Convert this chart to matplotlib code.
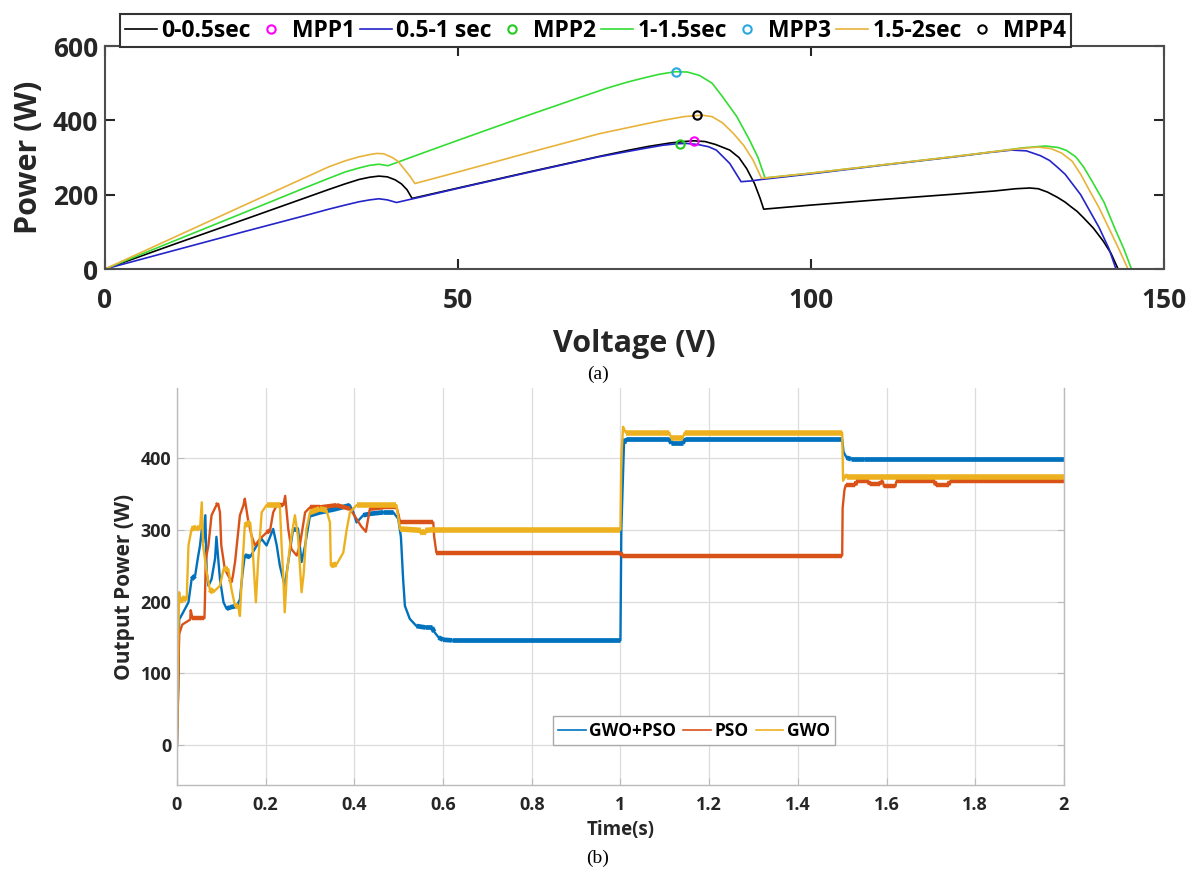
import numpy as np
import matplotlib
matplotlib.use('Agg')
import matplotlib.pyplot as plt
from matplotlib.collections import LineCollection

plt.rcParams['font.family'] = ['Open Sans', 'DejaVu Sans']
plt.rcParams['font.weight'] = 'bold'

# ---------------- (a) P-V curves ----------------
# 0-0.5 sec
v1 = [0, 10, 20, 28, 31.7, 34, 36, 37.5, 38.8, 40, 41.1, 42, 42.8, 43.5,
      50, 60, 70, 74, 77, 80, 82, 83.4, 85, 86.5, 88.5, 89.8, 90.9, 92, 92.8, 93.3,
      100, 110, 120, 126, 129, 131, 132.2, 133.5, 134.9, 136, 136.8, 137.7, 138.6,
      140, 141.4, 142.5, 143.5]
p1 = [0, 68, 135, 189, 214, 229, 241, 247, 250, 248, 240, 229, 213, 190,
      218, 261, 303, 319, 330, 339, 343, 345, 343, 335, 320, 300, 270, 230, 190, 161,
      172, 187, 201, 210, 216, 218, 216, 207, 193, 180, 168, 155, 138,
      110, 75, 42, 0]
# 0.5-1 sec
v2 = [0, 10, 20, 28, 31.7, 34, 36, 37.5, 38.8, 40, 41.3,
      45, 50, 60, 70, 75.7, 79, 81, 82.3, 84, 85.5, 86.6, 88.5, 90.1, 91.5, 93,
      100, 110, 120, 125, 128.4, 130.5, 132.5, 133.8, 134.9, 136, 137, 138.2, 139.2,
      140.8, 142.2, 143.2]
p2 = [0, 51, 102, 142, 161, 172, 181, 186, 189, 186, 179,
      195, 217, 260, 302, 322, 333, 337, 338, 335, 329, 320, 284, 235, 237, 241,
      256, 279, 301, 313, 320, 318, 305, 292, 274, 255, 230, 200, 166,
      112, 55, 0]
# 1-1.5 sec
v3 = [0, 10, 20, 28, 31.7, 34, 36, 37.5, 38.8, 40.1,
      45, 50.1, 60, 67, 71, 74, 76.5, 78.5, 80.8, 82.5, 84.2, 86, 87.5, 89.5, 91.3, 92.5, 93.5,
      100, 110, 120, 126, 130, 133.2, 135, 136.2, 137.5, 138.6, 139.7, 141.5, 143, 144.3, 145.4]
p3 = [0, 77, 154, 216, 244, 261, 272, 279, 282, 278,
      312, 347, 414, 460, 486, 503, 515, 524, 531, 530, 521, 500, 463, 410, 347, 300, 245,
      258, 280, 302, 316, 326, 331, 327, 319, 302, 275, 240, 180, 111, 55, 0]
# 1.5-2 sec
v4 = [0, 10, 20, 28, 31.7, 34, 36, 37.5, 38.5, 39.5, 40.7, 41.5, 42.3, 43.2, 43.9,
      50, 60, 70, 75.7, 79, 82, 84.5, 86, 87.5, 89, 90.5, 91.8, 93,
      100, 110, 120, 126, 130, 132.2, 134, 135.5, 137, 138.2, 139.2, 140.8, 142.4,
      143.7, 144.9]
p4 = [0, 87, 174, 243, 275, 291, 302, 308, 311, 310, 300, 290, 271, 250, 230,
      261, 313, 364, 387, 400, 410, 414, 410, 393, 365, 332, 293, 244,
      258, 280, 302, 316, 325, 328, 324, 312, 290, 255, 220, 165, 102,
      50, 0]

mpp_v = [83.4, 81.5, 80.9, 83.9]
mpp_p = [345, 336, 530, 414]
period_labels = ['0-0.5sec', '0.5-1 sec', '1-1.5sec', '1.5-2sec']
mpp_labels = ['MPP1', 'MPP2', 'MPP3', 'MPP4']

# ---------------- (b) output power vs time ----------------
t_gwopso = [0, 0.003, 0.005, 0.014, 0.026, 0.033, 0.041, 0.047, 0.052, 0.056, 0.059,
            0.064, 0.067, 0.071, 0.078, 0.086, 0.089, 0.093, 0.097, 0.105, 0.112,
            0.12, 0.135, 0.142, 0.148, 0.153, 0.165, 0.18, 0.191, 0.202, 0.21,
            0.217, 0.225, 0.232, 0.243, 0.251, 0.262, 0.273, 0.281, 0.289, 0.3,
            0.322, 0.36, 0.39, 0.398, 0.405, 0.42, 0.435, 0.465, 0.488, 0.499,
            0.505, 0.51, 0.514, 0.525, 0.54, 0.56, 0.575, 0.58, 0.59, 0.6, 0.62,
            1.0, 1.002, 1.008, 1.012, 1.11, 1.115, 1.14, 1.145, 1.5, 1.503,
            1.51, 1.52, 1.55, 2.0]
p_gwopso = [0, 80, 175, 185, 199, 231, 236, 260, 278, 300, 282,
            320, 241, 222, 231, 260, 290, 260, 231, 199, 190,
            192, 194, 203, 240, 264, 262, 278, 287, 278, 290,
            301, 278, 250, 222, 255, 301, 301, 255, 278, 320,
            324, 329, 334, 324, 310, 320, 322, 324, 324, 315,
            290, 231, 194, 176, 166, 164, 164, 158, 150, 147, 146,
            146, 300, 420, 426, 426, 420, 420, 426, 426, 408,
            400, 398, 398, 398]

t_pso = [0, 0.003, 0.005, 0.012, 0.03, 0.031, 0.035, 0.062, 0.063, 0.065, 0.071,
         0.078, 0.089, 0.093, 0.097, 0.1, 0.108, 0.12, 0.123, 0.126, 0.131,
         0.142, 0.15, 0.153, 0.16, 0.168, 0.176, 0.187, 0.202, 0.21, 0.217,
         0.225, 0.24, 0.244, 0.251, 0.258, 0.27, 0.277, 0.289, 0.3, 0.322,
         0.36, 0.39, 0.405, 0.415, 0.426, 0.435, 0.465, 0.495, 0.5, 0.503,
         0.578, 0.58, 0.585, 1.0, 1.003, 1.5, 1.501, 1.505, 1.508, 1.53, 1.532,
         1.56, 1.562, 1.585, 1.587, 1.592, 1.594, 1.62, 1.622, 1.709, 1.711,
         1.74, 1.742, 2.0]
p_pso = [0, 90, 155, 168, 175, 188, 177, 177, 200, 259, 278,
         320, 334, 336, 324, 278, 245, 231, 227, 235, 255,
         320, 334, 343, 315, 292, 278, 287, 296, 299, 324,
         334, 334, 347, 301, 273, 264, 278, 324, 331, 331,
         334, 329, 315, 305, 297, 329, 331, 331, 320, 310,
         310, 290, 268, 268, 264, 264, 330, 355, 362, 362, 367,
         367, 363, 363, 367, 367, 360, 360, 367, 367, 362,
         362, 367, 367]

t_gwo = [0, 0.003, 0.005, 0.007, 0.011, 0.022, 0.026, 0.033, 0.044, 0.052, 0.056,
         0.059, 0.067, 0.074, 0.082, 0.097, 0.105, 0.116, 0.123, 0.131, 0.138,
         0.142, 0.146, 0.153, 0.165, 0.17, 0.178, 0.183, 0.191, 0.202, 0.217,
         0.232, 0.236, 0.24, 0.243, 0.248, 0.255, 0.266, 0.273, 0.281, 0.286,
         0.292, 0.3, 0.322, 0.337, 0.345, 0.347, 0.36, 0.375, 0.383, 0.39,
         0.405, 0.435, 0.465, 0.495, 0.503, 0.55, 0.555, 0.56, 0.58, 1.0,
         1.002, 1.006, 1.012, 1.11, 1.115, 1.14, 1.145, 1.5, 1.502, 1.505,
         1.51, 2.0]
p_gwo = [0, 150, 213, 199, 205, 203, 278, 301, 303, 301, 338,
         278, 241, 217, 213, 222, 245, 245, 217, 194, 194,
         180, 231, 306, 310, 280, 199, 255, 324, 334, 334,
         334, 278, 231, 185, 240, 278, 320, 290, 213, 240,
         301, 324, 329, 327, 310, 250, 252, 268, 301, 324,
         334, 334, 334, 334, 301, 299, 294, 299, 300, 300,
         400, 443, 435, 435, 427, 427, 435, 435, 368, 375,
         373, 373]

fig = plt.figure(figsize=(11.98, 8.72), dpi=100)

# ---- top panel
ax1 = fig.add_axes([0.0876, 0.6915, 0.884, 0.2557])
c_black, c_blue, c_green, c_orange = '#000000', '#2424C8', '#33DD33', '#E8B33A'
ax1.plot(v1, p1, color=c_black, lw=1.2, label=period_labels[0])
ax1.plot(v2, p2, color=c_blue, lw=1.2, label=period_labels[1])
ax1.plot(v3, p3, color=c_green, lw=1.2, label=period_labels[2])
ax1.plot(v4, p4, color=c_orange, lw=1.2, label=period_labels[3])
mpp_colors = ['#FF00FF', '#22CC22', '#2AA8E0', '#000000']
mpp_handles = []
for i in range(4):
    h, = ax1.plot(mpp_v[i], mpp_p[i], 'o', ms=6, mfc='none', mec=mpp_colors[i],
                  mew=1.5, label=mpp_labels[i])
    mpp_handles.append(h)

ax1.set_xlim(0, 150)
ax1.set_ylim(0, 600)
ax1.set_xticks([0, 50, 100, 150])
ax1.set_yticks([0, 200, 400, 600])
ax1.tick_params(direction='in', length=7, width=1.5, top=True, right=True,
                labelsize=19, colors='#262626')
ax1.tick_params(axis='x', pad=13)
ax1.tick_params(axis='y', pad=5)
for s in ax1.spines.values():
    s.set_linewidth(1.5)
    s.set_color('#4d4d4d')
ax1.set_xlabel('Voltage (V)', fontsize=22, fontweight='bold', color='#262626', labelpad=11)
ax1.set_ylabel('Power (W)', fontsize=22, fontweight='bold', color='#262626', labelpad=6)

lines = ax1.get_lines()
order = [lines[0], mpp_handles[0], lines[1], mpp_handles[1],
         lines[2], mpp_handles[2], lines[3], mpp_handles[3]]
leg1 = ax1.legend(order, [h.get_label() for h in order], ncol=8, loc='lower center',
                  bbox_to_anchor=(0.463, 0.995), borderaxespad=0,
                  handlelength=1.4, handletextpad=0.2, columnspacing=0.2,
                  borderpad=0.2, fancybox=False, framealpha=1, edgecolor='#333333',
                  prop={'weight': 'bold', 'size': 16.5})
leg1.get_frame().set_linewidth(1.5)

fig.text(0.499, 0.571, '(a)', ha='center', va='center', fontsize=14,
         family='Liberation Serif', fontweight='normal')

# ---- bottom panel
ax2 = fig.add_axes([0.1477, 0.0998, 0.7404, 0.4553])
c1, c2, c3 = '#0072BD', '#D95319', '#EDB120'
series = [(t_gwopso, p_gwopso, c1, 'GWO+PSO', 3.4),
          (t_pso, p_pso, c2, 'PSO', 3.2),
          (t_gwo, p_gwo, c3, 'GWO', 4.0)]
handles2 = []
for t, p, c, lab, band in series:
    t = np.array(t)
    p = np.array(p)
    h, = ax2.plot(t, p, color=c, lw=1.7, label=lab)
    handles2.append(h)
    # ripple band: draw the flat stretches thicker
    pts = np.column_stack([t, p])
    segs = np.stack([pts[:-1], pts[1:]], axis=1)
    flat = np.abs(np.diff(p)) <= 6
    lc = LineCollection(segs[flat], colors=c, linewidths=band, capstyle='butt', zorder=2)
    ax2.add_collection(lc)

ax2.set_xlim(0, 2)
ax2.set_ylim(-55, 497)
ax2.set_xticks(np.arange(0, 2.01, 0.2))
ax2.set_xticklabels(['0', '0.2', '0.4', '0.6', '0.8', '1', '1.2', '1.4', '1.6', '1.8', '2'])
ax2.set_yticks([0, 100, 200, 300, 400])
ax2.grid(True, color='#dcdcdc', lw=0.9)
ax2.set_axisbelow(True)
ax2.tick_params(direction='in', length=5, width=0.8, right=True, top=False,
                labelsize=13, colors='#bbbbbb', labelcolor='#262626')
ax2.tick_params(axis='x', pad=8)
ax2.tick_params(axis='y', pad=4)
for s in ax2.spines.values():
    s.set_color('#bbbbbb')
    s.set_linewidth(1.0)
ax2.spines['top'].set_visible(False)
ax2.set_xlabel('Time(s)', fontsize=13.5, fontweight='bold', color='#262626', labelpad=4)
ax2.set_ylabel('Output Power (W)', fontsize=15, fontweight='bold', color='#262626', labelpad=4)

leg2 = ax2.legend(handles2, ['GWO+PSO', 'PSO', 'GWO'], ncol=3, loc='center',
                  bbox_to_anchor=(0.583, 0.137), prop={'weight': 'bold', 'size': 12.5},
                  handlelength=1.6, handletextpad=0.2, columnspacing=0.4,
                  borderpad=0.3, fancybox=False, framealpha=1, edgecolor='#aaaaaa')
for lh in leg2.get_lines():
    lh.set_linewidth(1.2)

fig.text(0.499, 0.016, '(b)', ha='center', va='center', fontsize=14,
         family='Liberation Serif', fontweight='normal')

fig.savefig('out.png', dpi=100)
